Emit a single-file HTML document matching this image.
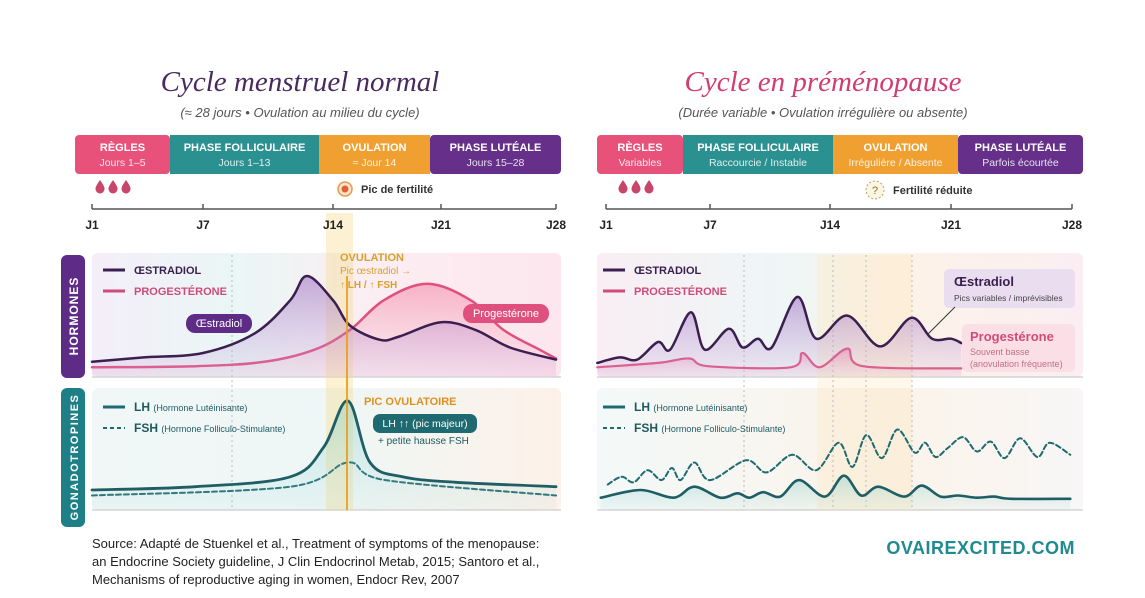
<!DOCTYPE html>
<html><head><meta charset="utf-8">
<style>
html,body{margin:0;padding:0;background:#fff;}
svg{display:block;font-family:"Liberation Sans",sans-serif;}
</style></head>
<body>
<svg id="c" width="1145" height="598" viewBox="0 0 1145 598" xmlns="http://www.w3.org/2000/svg">
<defs>
<linearGradient id="hbgL" x1="0" x2="1"><stop offset="0" stop-color="#f4eef8"/><stop offset="0.3" stop-color="#eaf6f6"/><stop offset="0.6" stop-color="#fbeef2"/><stop offset="1" stop-color="#fde6ee"/></linearGradient>
<linearGradient id="gbgL" x1="0" x2="1"><stop offset="0" stop-color="#f1f7f7"/><stop offset="0.5" stop-color="#eef7f6"/><stop offset="1" stop-color="#fdf1e8"/></linearGradient>
<linearGradient id="hbgR" x1="0" x2="1"><stop offset="0" stop-color="#f8eef4"/><stop offset="0.4" stop-color="#eef6f6"/><stop offset="0.6" stop-color="#fdf3e6"/><stop offset="1" stop-color="#fbeef3"/></linearGradient>
<linearGradient id="gbgR" x1="0" x2="1"><stop offset="0" stop-color="#f3f8f8"/><stop offset="0.6" stop-color="#fbf4ea"/><stop offset="1" stop-color="#f8f6f6"/></linearGradient>
<linearGradient id="eFill" x1="0" y1="0" x2="0" y2="1"><stop offset="0" stop-color="#9a6cc0" stop-opacity="0.55"/><stop offset="1" stop-color="#c9a8dc" stop-opacity="0.15"/></linearGradient>
<linearGradient id="pFill" x1="0" y1="0" x2="0" y2="1"><stop offset="0" stop-color="#f06a92" stop-opacity="0.45"/><stop offset="1" stop-color="#f8b0c4" stop-opacity="0.1"/></linearGradient>
<linearGradient id="lFill" x1="0" y1="0" x2="0" y2="1"><stop offset="0" stop-color="#5fc0c0" stop-opacity="0.35"/><stop offset="1" stop-color="#9ed8d8" stop-opacity="0.1"/></linearGradient>
</defs>

<text x="300" y="91" text-anchor="middle" font-family="Liberation Serif,serif" font-style="italic" font-size="29" fill="#4a2a5e">Cycle menstruel normal</text>
<text x="300" y="117" text-anchor="middle" font-style="italic" font-size="13" fill="#555">(≈ 28 jours • Ovulation au milieu du cycle)</text>
<text x="823" y="91" text-anchor="middle" font-family="Liberation Serif,serif" font-style="italic" font-size="29" fill="#d23c6e">Cycle en préménopause</text>
<text x="823" y="117" text-anchor="middle" font-style="italic" font-size="13" fill="#555">(Durée variable • Ovulation irrégulière ou absente)</text>

<g id="static"></g>
<g id="marks"></g>

<rect x="61" y="255" width="24" height="123" rx="6" fill="#5e2c86"/>
<text transform="translate(78,316) rotate(-90)" text-anchor="middle" font-size="12" font-weight="bold" fill="#fff" letter-spacing="1">HORMONES</text>
<rect x="61" y="388" width="24" height="139" rx="6" fill="#1f7f86"/>
<text transform="translate(78,457) rotate(-90)" text-anchor="middle" font-size="11" font-weight="bold" fill="#fff" letter-spacing="1.5">GONADOTROPINES</text>

<g font-size="13" fill="#222">
<text x="92" y="548">Source: Adapté de Stuenkel et al., Treatment of symptoms of the menopause:</text>
<text x="92" y="566">an Endocrine Society guideline, J Clin Endocrinol Metab, 2015; Santoro et al.,</text>
<text x="92" y="584">Mechanisms of reproductive aging in women, Endocr Rev, 2007</text>
</g>
<text x="1075" y="554" text-anchor="end" font-size="18" font-weight="bold" fill="#1f8a90" letter-spacing="0.5">OVAIREXCITED.COM</text>
</svg>
<script>
// ---------- DATA ----------
const tickLabels = ["J1","J7","J14","J21","J28"];
const tickDays = [1,7,14,21,28];
const phaseNamesL = ["RÈGLES","PHASE FOLLICULAIRE","OVULATION","PHASE LUTÉALE"];
const phaseSubsL = ["Jours 1–5","Jours 1–13","≈ Jour 14","Jours 15–28"];
const phaseNamesR = ["RÈGLES","PHASE FOLLICULAIRE","OVULATION","PHASE LUTÉALE"];
const phaseSubsR = ["Variables","Raccourcie / Instable","Irrégulière / Absente","Parfois écourtée"];
// Left (normal cycle)
const estrDaysL = [1,3.8,7,9.8,11.7,12.6,14,15.1,17.05,18.3,21,23.1,25.2,28];
const estrValsL = [12,16,20,38,68,90,68,45,32,35,48,41,25,14];
const progDaysL = [1,6.6,10.3,13.0,15.1,17.3,20.1,22.8,24.8,27.0,28];
const progValsL = [7,8,12,23,41,68,83,68,41,23,15];
const lhDaysL = [1,6.6,11.7,13.5,14.97,16.4,18.5,21.9,28];
const lhValsL = [20,23,32,59,101,45,32,27,23];
const fshDaysL = [1,11.7,14.97,17.4,28];
const fshValsL = [15,23,45,29,15];
// Right (perimenopause)
const estrDaysR = [0.5,1.8,2.8,4.0,4.7,5.9,6.7,8.1,8.9,9.8,10.6,12.1,13.2,15.0,16.9,18.7,19.9,21.0,21.6];
const estrValsR = [11,16,14,30,23,57,23,42,25,33,25,71,33,54,26,52,33,33,29];
const progDaysR = [0.5,4.0,5.8,6.9,11.7,12.4,13.4,15.0,15.9,21.6];
const progValsR = [7,11,15,8,7,20,7,24,8,6];
const lhDaysR = [0.7,3.0,4.9,6.1,7.6,8.6,9.3,10.1,11.1,12.2,13.7,14.8,15.8,16.8,18.3,19.3,20.4,21.4,22.5,23.5,24.5,27.9];
const lhValsR = [13,20,13,23,13,17,13,18,14,29,14,33,15,23,14,24,14,15,13,14,12,12];
const fshDaysR = [1.1,1.9,2.6,3.4,4.2,4.8,5.3,6.1,7.0,9.1,10.3,11.8,13.2,14.5,15.3,16.1,17.0,17.9,18.9,19.5,20.1,20.8,21.7,22.5,23.3,24.1,25.0,26.0,26.7,27.9];
const fshValsR = [25,32,27,38,29,40,29,45,29,47,36,52,38,63,41,70,49,75,54,63,50,58,68,55,64,49,67,50,63,52];

// ---------- helpers ----------
const NS="http://www.w3.org/2000/svg";
const st=document.getElementById('static'), mk=document.getElementById('marks');
function el(tag,attrs,parent,text){const e=document.createElementNS(NS,tag);for(const k in attrs)e.setAttribute(k,attrs[k]);if(text!==undefined)e.textContent=text;(parent||st).appendChild(e);return e;}
function pwScale(px){return d=>{let i=0;while(i<tickDays.length-2&&d>tickDays[i+1])i++;const d0=tickDays[i],d1=tickDays[i+1];return px[i]+(d-d0)*(px[i+1]-px[i])/(d1-d0);};}
function smooth(pts){let d=`M${pts[0][0]},${pts[0][1]}`;for(let i=0;i<pts.length-1;i++){const p0=pts[i-1]||pts[i],p1=pts[i],p2=pts[i+1],p3=pts[i+2]||p2;const c1=[p1[0]+(p2[0]-p0[0])/6,p1[1]+(p2[1]-p0[1])/6],c2=[p2[0]-(p3[0]-p1[0])/6,p2[1]-(p3[1]-p1[1])/6];d+=` C${c1[0]},${c1[1]} ${c2[0]},${c2[1]} ${p2[0]},${p2[1]}`;}return d;}

function panel(side){
  const L=side==='L';
  const X=L?pwScale([92,203,333,441,556]):pwScale([606,710,830,951,1072]);
  const x0=X(1), x1=X(28);
  const bx0=L?75:597, bx1=L?561:1083;
  const segs=L?[75,170,319,430,561]:[597,683,833,958,1083];
  const cols=["#e8527a","#2a9190","#f0a030","#66308a"];
  const names=L?phaseNamesL:phaseNamesR, subs=L?phaseSubsL:phaseSubsR;
  for(let i=0;i<4;i++){
    const r=el('rect',{x:segs[i],y:135,width:segs[i+1]-segs[i],height:39,fill:cols[i],rx:(i==0||i==3)?4:0});
    
    
    const cx=(segs[i]+segs[i+1])/2;
    const t=el('text',{x:cx,y:151,'text-anchor':'middle','font-size':11,'font-weight':'bold',fill:'#fff'},st,names[i]);
    
    
    const s=el('text',{x:cx,y:166,'text-anchor':'middle','font-size':10.5,fill:'rgba(255,255,255,0.85)'},st,subs[i]);
    
    
  }
  const dx=L?100:623;
  for(let i=0;i<3;i++){const c=dx+i*13;const dp=el('path',{d:`M${c},180 Q${c+5},187 ${c+4.5},189 A4.5,4.5 0 1 1 ${c-4.5},189 Q${c-5},187 ${c},180Z`,fill:'#c8466a'});
    
    }
  if(L){
    el('circle',{cx:345,cy:189,r:7,fill:'#fde5c8',stroke:'#e89a50','stroke-width':1.5});
    el('circle',{cx:345,cy:189,r:3.5,fill:'#e0603a'});
    const f=el('text',{x:361,y:193,'font-size':11,'font-weight':'bold',fill:'#333'},st,'Pic de fertilité');
    
    
  } else {
    el('circle',{cx:875,cy:190,r:9,fill:'#fbf5e4',stroke:'#b8a060','stroke-width':1,'stroke-dasharray':'2 2'});
    el('text',{x:875,y:194,'text-anchor':'middle','font-size':11,fill:'#8a7030'},st,'?');
    const f=el('text',{x:893,y:194,'font-size':11,'font-weight':'bold',fill:'#333'},st,'Fertilité réduite');
    
    
  }
  const hb=el('rect',{x:bx0+(L?17:0),y:253,width:bx1-bx0-(L?17:0),height:124,rx:6,fill:L?'url(#hbgL)':'url(#hbgR)'});
  
  
  const gb=el('rect',{x:bx0+(L?17:0),y:388,width:bx1-bx0-(L?17:0),height:122,rx:6,fill:L?'url(#gbgL)':'url(#gbgR)'});
  
  
  el('line',{x1:bx0+(L?17:0),x2:bx1,y1:377,y2:377,stroke:'#ccc','stroke-width':1.2});
  el('line',{x1:bx0+(L?17:0),x2:bx1,y1:510,y2:510,stroke:'#ccc','stroke-width':1.2});
  if(L){
    const band=el('rect',{x:326,y:213,width:27,height:297,fill:'#f5d880',opacity:0.35});
    
    
    el('line',{x1:232,x2:232,y1:255,y2:510,stroke:'#bbb','stroke-dasharray':'2 3'});
  } else {
    el('rect',{x:817,y:255,width:95,height:255,fill:'#fbe3b8',opacity:0.3});
    [744,833,866,912].forEach(x=>el('line',{x1:x,x2:x,y1:255,y2:510,stroke:'#bbb','stroke-dasharray':'2 3'}));
  }
  el('line',{x1:x0,x2:x1,y1:209,y2:209,stroke:'#555','stroke-width':1.5});
  tickDays.forEach((d,i)=>{
    el('line',{x1:X(d),x2:X(d),y1:204,y2:209,stroke:'#555','stroke-width':1.5});
    const t=el('text',{x:X(d),y:229,'text-anchor':'middle','font-size':12,'font-weight':'bold',fill:'#222'},st,tickLabels[i]);
    
    
  });
  const lx=L?103:603;
  el('line',{x1:lx,x2:lx+22,y1:270,y2:270,stroke:'#3a1f4f','stroke-width':3});
  el('text',{x:lx+31,y:274,'font-size':11,'font-weight':'bold',fill:'#3a1f4f'},st,'ŒSTRADIOL');
  el('line',{x1:lx,x2:lx+22,y1:291,y2:291,stroke:'#d04c78','stroke-width':3});
  el('text',{x:lx+31,y:295,'font-size':11,'font-weight':'bold',fill:'#d04c78'},st,'PROGESTÉRONE');
  el('line',{x1:lx,x2:lx+22,y1:407,y2:407,stroke:'#1e6a70','stroke-width':3});
  const t1=el('text',{x:lx+31,y:411,'font-size':11,fill:'#1e5a60'},st,'');
  el('tspan',{'font-weight':'bold','font-size':12},t1,'LH ');el('tspan',{'font-size':9},t1,'(Hormone Lutéinisante)');
  el('line',{x1:lx,x2:lx+22,y1:428,y2:428,stroke:'#1e6a70','stroke-width':2,'stroke-dasharray':'4 3'});
  const t2=el('text',{x:lx+31,y:432,'font-size':11,fill:'#1e5a60'},st,'');
  el('tspan',{'font-weight':'bold','font-size':12},t2,'FSH ');el('tspan',{'font-size':9},t2,'(Hormone Folliculo-Stimulante)');

  const hy=v=>375-v*1.1, gy=v=>512-v*1.1;
  function series(days,vals,Y,base,stroke,fill,width,dash,name){
    const pts=days.map((d,i)=>[X(d),Y(vals[i])]);
    const dd=smooth(pts);
    if(fill){const a=el('path',{d:dd+` L${pts[pts.length-1][0]},${base} L${pts[0][0]},${base}Z`,fill:fill},mk);
      
      }
    const p=el('path',{d:dd,fill:'none',stroke:stroke,'stroke-width':width,'stroke-dasharray':dash||'none','stroke-linecap':'round'},mk);
    
    
  }
  if(L){
    series(progDaysL,progValsL,hy,376,'#e0507e','url(#pFill)',2.5,null,'progesterone-line-L');
    series(estrDaysL,estrValsL,hy,376,'#3a1f4f','url(#eFill)',2.5,null,'estradiol-line-L');
    series(fshDaysL,fshValsL,gy,509,'#1e6a70',null,2,'5 3','fsh-line-L');
    series(lhDaysL,lhValsL,gy,509,'#1e5e64','url(#lFill)',2.8,null,'lh-line-L');
  } else {
    series(progDaysR,progValsR,hy,376,'#e0507e','url(#pFill)',2.2,null,'progesterone-line-R');
    series(estrDaysR,estrValsR,hy,376,'#3a1f4f','url(#eFill)',2.5,null,'estradiol-line-R');
    series(fshDaysR,fshValsR,gy,509,'#1e6a70',null,2,'5 3','fsh-line-R');
    series(lhDaysR,lhValsR,gy,509,'#1e5e64','url(#lFill)',2.6,null,'lh-line-R');
  }
}
panel('L'); panel('R');

function lab(x,y,t,attrs,name){const e=el('text',Object.assign({x:x,y:y},attrs),mk,t);return e;}
el('line',{x1:347,x2:347,y1:276,y2:510,stroke:'#e8a020','stroke-width':1.8},mk);
el('rect',{x:186,y:314,width:66,height:19,rx:9,fill:'#5e2c86'},mk);
lab(219,327,'Œstradiol',{'text-anchor':'middle','font-size':11,fill:'#fff'},'estradiol-pill');
el('rect',{x:463,y:304,width:86,height:19,rx:9,fill:'#e0507e'},mk);
lab(506,317,'Progestérone',{'text-anchor':'middle','font-size':11,fill:'#fff'},'progesterone-pill');
lab(340,261,'OVULATION',{'font-size':11,'font-weight':'bold',fill:'#d8a030'},'ovulation-annotation');
lab(340,274,'Pic œstradiol →',{'font-size':10,fill:'#d8a030'},'ovulation-note-1');
lab(340,288,'↑ LH / ↑ FSH',{'font-size':10,'font-weight':'bold',fill:'#d8a030'},'ovulation-note-2');
lab(364,405,'PIC OVULATOIRE',{'font-size':11,'font-weight':'bold',fill:'#e09020'},'lh-peak-annotation');
el('rect',{x:373,y:414,width:104,height:19,rx:7,fill:'#1e6a70'},mk);
lab(425,427,'LH ↑↑ (pic majeur)',{'text-anchor':'middle','font-size':10.5,fill:'#fff'},'lh-peak-pill');
lab(378,444,'+ petite hausse FSH',{'font-size':10,fill:'#1e5a60'},'fsh-note');
el('rect',{x:944,y:269,width:131,height:39,rx:5,fill:'#e8daf0',opacity:0.9},mk);
lab(954,286,'Œstradiol',{'font-size':13,'font-weight':'bold',fill:'#3a1f4f'},'estradiol-box-title');
lab(954,301,'Pics variables / imprévisibles',{'font-size':8.5,fill:'#444'},'estradiol-box-note');
el('line',{x1:955,x2:928,y1:307,y2:334,stroke:'#333','stroke-width':1},mk);
el('rect',{x:962,y:324,width:113,height:48,rx:5,fill:'#fbdde5',opacity:0.9},mk);
lab(970,341,'Progestérone',{'font-size':13,'font-weight':'bold',fill:'#d04c78'},'progesterone-box-title');
lab(970,355,'Souvent basse',{'font-size':9,fill:'#c07080'},'progesterone-box-note1');
lab(970,367,'(anovulation fréquente)',{'font-size':9,fill:'#c07080'},'progesterone-box-note2');
</script>
</body></html>
